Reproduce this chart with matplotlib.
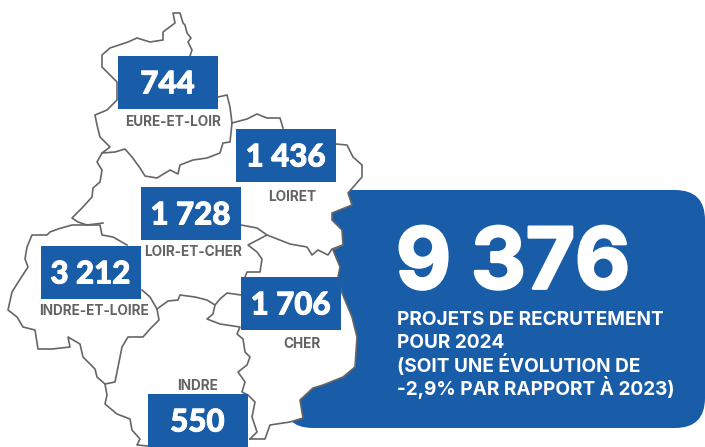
import matplotlib
matplotlib.use("Agg")
import matplotlib.pyplot as plt
import matplotlib.patheffects as pe
from matplotlib.patches import FancyBboxPatch, Polygon, Rectangle

BLUE = "#195CA8"; GREY = "#636363"; LINE = "#666666"
plt.rcParams["font.family"] = ["Lato", "DejaVu Sans"]

# departments: value, label
DEPTS = ["EURE-ET-LOIR", "LOIRET", "LOIR-ET-CHER", "INDRE-ET-LOIRE", "CHER", "INDRE"]
VALUES = ["744", "1 436", "1 728", "3 212", "1 706", "550"]
TOTAL = "9 376"
CAPTION = ["PROJETS DE RECRUTEMENT", "POUR 2024", "(SOIT UNE ÉVOLUTION DE", "-2,9% PAR RAPPORT À 2023)"]

# border lines (pixels)
EURE = [(190,56),(192,50),(188,42),(191,38),(187,33),(185,25),(183,23),(180,13),(173,13),(175,23),(163,32),(163,40),
        (150,42),(137,38),(128,42),(110,48),(102,55),(102,67),(113,78),(117,82),(117,100),(107,110),(95,115),(97,125),
        (100,137),(110,147),(102,153),(115,152),(125,149),(132,157),(140,168),(145,176),(157,178),(170,170),(178,174),
        (180,165),(193,160),(207,158),(220,153),(223,143),(230,142),(232,123),(230,107),(227,95),(218,97)]
LOIRET_TOP = [(232,123),(247,119),(257,114),(267,118),(280,118),(283,128)]
EAST = [(336,144),(347,145),(353,157),(362,165),(362,177),(348,193),(352,205),(332,213),(332,220),(342,230),(343,245),
        (333,250),(340,267),(338,277),(342,293),(352,317),(357,337),(355,367),(343,377),(323,385),(313,388),(300,400),
        (303,418),(290,422),(270,425),(265,439),(250,439)]
WEST_TOP = [(102,153),(97,162),(102,170),(100,182),(93,188),(92,197),(82,208),(72,218),(78,222),(87,225),(103,223)]
INDRE_LOIRE = [(127,245),(113,237),(102,235),(100,225),(87,225),(72,225),(58,229),(50,232),(47,235),(32,235),(27,247),
               (25,259),(28,267),(17,284),(12,292),(8,310),(17,317),(23,327),(35,330),(38,349),(52,349),(70,347),(68,337),
               (80,344),(83,357),(95,369),(97,377),(105,384),(115,382),(117,372),(122,347),(128,337),(143,337),(150,329),
               (159,320),(157,309),(150,297),(142,290)]
LOIR_SOUTH = [(157,309),(168,301),(178,300),(180,295),(195,297),(207,300),(215,305),(220,299),(227,293),(241,295)]
LOIR_EAST = [(241,225),(257,228),(267,235),(248,245),(257,252),(262,259),(260,272),(247,272),(245,277)]
CHER_TOP = [(267,235),(290,244),(307,247),(312,255),(318,250),(328,255),(332,249),(343,245)]
CHER_WEST = [(215,305),(213,314),(207,319),(220,324),(240,327),(237,334),(243,339),(245,352),(250,357),(247,365),(238,372),
             (245,382),(242,392),(248,395),(255,402),(252,417),(257,432),(250,439)]
INDRE_WEST = [(105,384),(107,395),(105,404),(117,414),(130,419),(132,430),(140,439),(137,445),(148,446)]
BORDERS = [EURE, LOIRET_TOP, EAST, WEST_TOP, INDRE_LOIRE, LOIR_SOUTH, LOIR_EAST, CHER_TOP, CHER_WEST, INDRE_WEST]

fig = plt.figure(figsize=(7.05, 4.47), dpi=100)
ax = fig.add_axes([0, 0, 1, 1])
ax.set_xlim(0, 705); ax.set_ylim(447, 0); ax.axis("off")

# panel goes under the map
ax.add_patch(FancyBboxPatch((283+30, 190+30), 705-283-60, 428-190-60, boxstyle="round,pad=30,rounding_size=30",
                            fc=BLUE, ec="none", zorder=1))
ax.add_patch(Polygon(LOIRET_TOP[-1:] + EAST, closed=True, fc="white", ec="none", zorder=2))
for b in BORDERS:
    ax.plot(*zip(*b), color=LINE, lw=1.2, zorder=3, solid_joinstyle="round")

# box left/top corners, label centres
BOX_XY = [(118,56), (236,129), (141,187), (41,246), (241,277), (148,394)]
LAB_XY = [(173.5,122), (292,197), (193.5,252), (93.5,311), (302,344), (197.5,386)]
heavy = [pe.withStroke(linewidth=0.7, foreground="white")]
for d, v, (x, y), (lx, ly) in zip(DEPTS, VALUES, BOX_XY, LAB_XY):
    ax.add_patch(Rectangle((x, y), 100, 53, fc=BLUE, ec="none", zorder=4))
    ax.text(x+49.5, y+28.5, v, color="white", fontsize=22.5, fontweight="black", ha="center", va="center", zorder=5,
            path_effects=heavy)
    ax.text(lx, ly, d, color=GREY, fontsize=9.8, family="Inter", fontweight="bold", ha="center", va="center", zorder=5)

ax.text(396, 266, TOTAL, color="white", fontsize=61, family="Inter", fontweight="bold", ha="left", va="center",
        zorder=5, path_effects=[pe.withStroke(linewidth=2, foreground="white")])
for i, s in enumerate(CAPTION):
    ax.text(397, 320 + i*22.6, s, color="white", fontsize=13.7, family="Inter", fontweight="bold", ha="left",
            va="center", zorder=5)

fig.savefig("out.png", dpi=100)
